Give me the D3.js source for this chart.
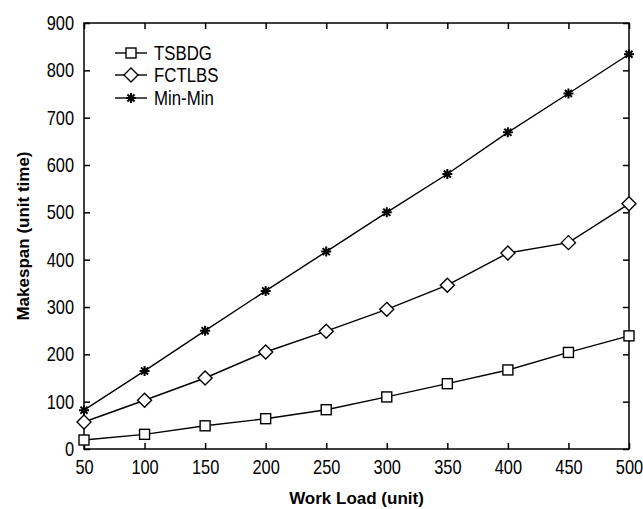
<!DOCTYPE html>
<html><head><meta charset="utf-8">
<script src="https://cdn.jsdelivr.net/npm/d3@7"></script>
<style>body{margin:0;background:#fff}</style>
</head><body>
<script>
const workLoads = [50,100,150,200,250,300,350,400,450,500];
const tsbdg  = [19,31,49,64,83,110,138,167,204,239];
const fctlbs = [57,103,150,205,249,295,346,414,436,518];
const minMin = [82,165,250,334,417,500,581,669,751,834];
const seriesNames = ["TSBDG","FCTLBS","Min-Min"];
const xTicks = [50,100,150,200,250,300,350,400,450,500];
const yTicks = [0,100,200,300,400,500,600,700,800,900];

const W=643,H=509;
const m={l:84,r:14,t:23,b:60};
const svg=d3.select("body").append("svg").attr("width",W).attr("height",H);
const x=d3.scaleLinear().domain([50,500]).range([m.l,W-m.r]);
const y=d3.scaleLinear().domain([0,900]).range([H-m.b,m.t]);
const font="Liberation Sans, Arial, sans-serif";
const SX=0.82; // narrow look

svg.append("rect").attr("x",x(50)).attr("y",y(900)).attr("width",x(500)-x(50)).attr("height",y(0)-y(900))
  .attr("fill","#fff").attr("stroke","#000").attr("stroke-width",1.5);

const xb=svg.append("g").attr("transform",`translate(0,${y(0)})`)
  .call(d3.axisBottom(x).tickValues(xTicks).tickSize(-6).tickPadding(11).tickFormat(d3.format("d")));
const xt=svg.append("g").attr("transform",`translate(0,${y(900)})`)
  .call(d3.axisTop(x).tickValues(xTicks).tickSize(-6).tickFormat(""));
const yl=svg.append("g").attr("transform",`translate(${x(50)},0)`)
  .call(d3.axisLeft(y).tickValues(yTicks).tickSize(-6).tickPadding(10).tickFormat(d3.format("d")));
const yr=svg.append("g").attr("transform",`translate(${x(500)},0)`)
  .call(d3.axisRight(y).tickValues(yTicks).tickSize(-6).tickFormat(""));
[xb,xt,yl,yr].forEach(g=>{
  g.select(".domain").remove();
  g.selectAll("line").attr("stroke","#000").attr("stroke-width",1.5);
  g.selectAll("text").attr("font-family",font).attr("font-size",20).attr("fill","#000")
    .each(function(){
      const t=d3.select(this); const tx=+t.attr("x")||0;
      t.attr("x",tx/SX).attr("transform",`scale(${SX},1)`);
    });
});

const line=d3.line().x((d,i)=>x(workLoads[i])).y(d=>y(d));
const data=[tsbdg,fctlbs,minMin];
const shapes=["square","diamond","star"];

function marker(g,shape,cx,cy){
  if(shape==="square"){
    g.append("rect").attr("x",cx-5).attr("y",cy-5).attr("width",10).attr("height",10)
      .attr("fill","#fff").attr("stroke","#000").attr("stroke-width",1.4);
  } else if(shape==="diamond"){
    g.append("path").attr("d",`M${cx},${cy-7}L${cx+7},${cy}L${cx},${cy+7}L${cx-7},${cy}Z`)
      .attr("fill","#fff").attr("stroke","#000").attr("stroke-width",1.4);
  } else {
    const r=5;
    let p="";
    for(let k=0;k<4;k++){const a=k*Math.PI/4;p+=`M${cx-r*Math.cos(a)},${cy-r*Math.sin(a)}L${cx+r*Math.cos(a)},${cy+r*Math.sin(a)}`;}
    g.append("path").attr("d",p).attr("stroke","#000").attr("stroke-width",2);
  }
}

data.forEach((vals,si)=>{
  svg.append("path").datum(vals).attr("d",line).attr("fill","none").attr("stroke","#000").attr("stroke-width",1.4);
  const g=svg.append("g");
  vals.forEach((v,i)=>marker(g,shapes[si],x(workLoads[i]),y(v)));
});

const legY=[53,75,98];
seriesNames.forEach((n,i)=>{
  const g=svg.append("g");
  g.append("line").attr("x1",115).attr("x2",147).attr("y1",legY[i]).attr("y2",legY[i]).attr("stroke","#000").attr("stroke-width",1.4);
  marker(g,shapes[i],131,legY[i]);
  g.append("text").attr("x",154/SX).attr("y",legY[i]+7).attr("transform",`scale(${SX},1)`).text(n)
    .attr("font-family",font).attr("font-size",20.5).attr("fill","#000");
});

svg.append("text").attr("x",(x(50)+x(500))/2).attr("y",504).attr("text-anchor","middle")
  .attr("font-family",font).attr("font-size",17).attr("font-weight","bold").text("Work Load (unit)");
svg.append("text").attr("transform",`translate(29,${(y(0)+y(900))/2}) rotate(-90)`).attr("text-anchor","middle")
  .attr("font-family",font).attr("font-size",17).attr("font-weight","bold").text("Makespan (unit time)");
</script>
</body></html>
